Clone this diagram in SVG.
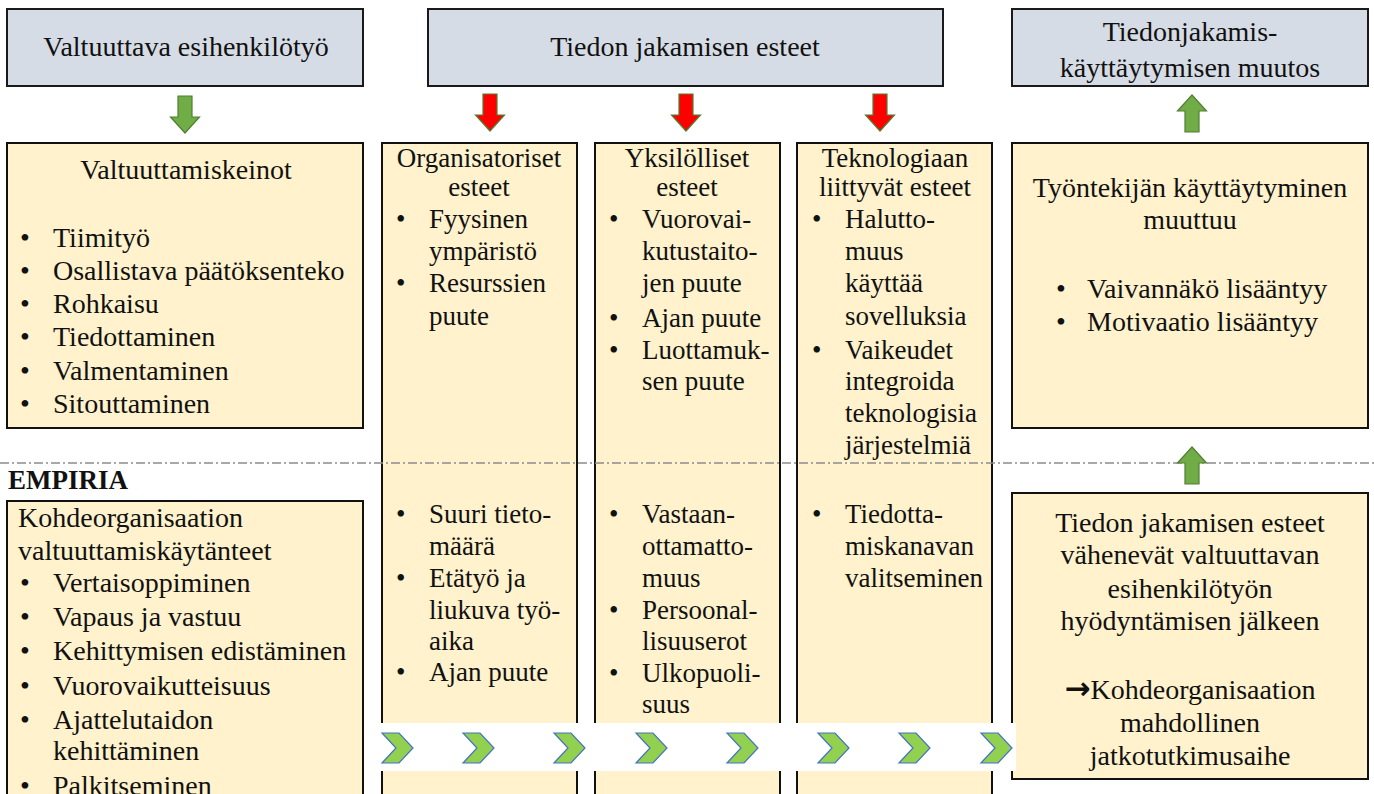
<svg xmlns="http://www.w3.org/2000/svg" width="1374" height="794" viewBox="0 0 1374 794">
  <defs>
    <style>
      text { font-family: "Liberation Serif", "Times New Roman", serif; font-size: 28px; fill: #111; }
      .col text { font-size: 27px; }
      .c { text-anchor: middle; }
      .head { fill: #d6dce5; stroke: #1a1a1a; stroke-width: 2; }
      .box { fill: #fff2cc; stroke: #111; stroke-width: 2; }
      .garrow { fill: #70ad47; stroke: #507e32; stroke-width: 1.2; }
      .rarrow { fill: #ff0000; stroke: #507e32; stroke-width: 1.2; }
      .chev { fill: #92d050; stroke: #4472c4; stroke-width: 1.2; }
      .divider { stroke: #8c8c8c; stroke-width: 1.3; stroke-dasharray: 9 3 2 3; fill: none; }
      .label { font-weight: bold; font-size: 27px; }
      .sym { font-family: "DejaVu Sans", sans-serif; font-weight: bold; font-size: 31px; }
    </style>
    <!-- block arrow, pointing down, centred on x=0, 37 tall -->
    <path id="arrowDown" d="M -7 0 H 7 V 21 H 14.5 L 0 37 L -14.5 21 H -7 Z"/>
    <path id="arrowUp" d="M -7 37 H 7 V 16 H 14.5 L 0 0 L -14.5 16 H -7 Z"/>
    <polygon id="chevron" points="0,0 17,0 31,15 17,30 0,30 14,15"/>
  </defs>

  <rect width="1374" height="794" fill="#ffffff"/>

  <!-- header boxes -->
  <g id="head-valtuuttava">
    <rect class="head" x="7" y="9" width="356" height="77"/>
    <text class="c" x="186" y="56">Valtuuttava esihenkilötyö</text>
  </g>
  <g id="head-esteet">
    <rect class="head" x="428" y="9" width="515" height="77"/>
    <text class="c" x="685" y="56">Tiedon jakamisen esteet</text>
  </g>
  <g id="head-muutos">
    <rect class="head" x="1012" y="9" width="356" height="77"/>
    <text class="c" x="1190" y="41">Tiedonjakamis-</text>
    <text class="c" x="1190" y="77">käyttäytymisen muutos</text>
  </g>

  <!-- left: means of empowerment -->
  <g id="box-keinot">
    <rect class="box" x="7" y="143" width="356" height="285"/>
    <text class="c" x="186" y="179">Valtuuttamiskeinot</text>
    <text x="20" y="247">•</text><text x="53" y="247">Tiimityö</text>
    <text x="20" y="280">•</text><text x="53" y="280">Osallistava päätöksenteko</text>
    <text x="20" y="313">•</text><text x="53" y="313">Rohkaisu</text>
    <text x="20" y="346">•</text><text x="53" y="346">Tiedottaminen</text>
    <text x="20" y="380">•</text><text x="53" y="380">Valmentaminen</text>
    <text x="20" y="413">•</text><text x="53" y="413">Sitouttaminen</text>
  </g>

  <!-- barrier columns -->
  <g id="col-organisatoriset" class="col">
    <rect class="box" x="382" y="143" width="195" height="670"/>
    <text class="c" x="479" y="167">Organisatoriset</text>
    <text class="c" x="479" y="196">esteet</text>
    <text x="396" y="228">•</text><text x="429" y="228">Fyysinen</text>
    <text x="429" y="260">ympäristö</text>
    <text x="396" y="292">•</text><text x="429" y="292">Resurssien</text>
    <text x="429" y="325">puute</text>
    <text x="396" y="523">•</text><text x="429" y="523">Suuri tieto-</text>
    <text x="429" y="555">määrä</text>
    <text x="396" y="587">•</text><text x="429" y="587">Etätyö ja</text>
    <text x="429" y="619">liukuva työ-</text>
    <text x="429" y="650">aika</text>
    <text x="396" y="681">•</text><text x="429" y="681">Ajan puute</text>
  </g>
  <g id="col-yksilolliset" class="col">
    <rect class="box" x="595" y="143" width="185" height="670"/>
    <text class="c" x="687" y="167">Yksilölliset</text>
    <text class="c" x="687" y="196">esteet</text>
    <text x="609" y="228">•</text><text x="642" y="228">Vuorovai-</text>
    <text x="642" y="260">kutustaito-</text>
    <text x="642" y="292">jen puute</text>
    <text x="609" y="327">•</text><text x="642" y="327">Ajan puute</text>
    <text x="609" y="359">•</text><text x="642" y="359">Luottamuk-</text>
    <text x="642" y="390">sen puute</text>
    <text x="609" y="523">•</text><text x="642" y="523">Vastaan-</text>
    <text x="642" y="555">ottamatto-</text>
    <text x="642" y="587">muus</text>
    <text x="609" y="619">•</text><text x="642" y="619">Persoonal-</text>
    <text x="642" y="650">lisuuserot</text>
    <text x="609" y="682">•</text><text x="642" y="682">Ulkopuoli-</text>
    <text x="642" y="713">suus</text>
  </g>
  <g id="col-teknologia" class="col">
    <rect class="box" x="797" y="143" width="195" height="670"/>
    <text class="c" x="895" y="167">Teknologiaan</text>
    <text class="c" x="895" y="196">liittyvät esteet</text>
    <text x="812" y="228">•</text><text x="845" y="228">Halutto-</text>
    <text x="845" y="260">muus</text>
    <text x="845" y="292">käyttää</text>
    <text x="845" y="325">sovelluksia</text>
    <text x="812" y="359">•</text><text x="845" y="359">Vaikeudet</text>
    <text x="845" y="390">integroida</text>
    <text x="845" y="422">teknologisia</text>
    <text x="845" y="454">järjestelmiä</text>
    <text x="812" y="523">•</text><text x="845" y="523">Tiedotta-</text>
    <text x="845" y="555">miskanavan</text>
    <text x="845" y="587">valitseminen</text>
  </g>

  <!-- right: behaviour change -->
  <g id="box-kayttaytyminen">
    <rect class="box" x="1012" y="143" width="356" height="285"/>
    <text class="c" x="1190" y="197">Työntekijän käyttäytyminen</text>
    <text class="c" x="1190" y="229">muuttuu</text>
    <text x="1056" y="298">•</text><text x="1087" y="298">Vaivannäkö lisääntyy</text>
    <text x="1056" y="331">•</text><text x="1087" y="331">Motivaatio lisääntyy</text>
  </g>

  <!-- theory / empirical divider -->
  <line class="divider" x1="0" y1="463" x2="1374" y2="463"/>

  <!-- empirical part -->
  <text class="label" x="8" y="489">EMPIRIA</text>
  <g id="box-kaytanteet">
    <rect class="box" x="7" y="501" width="356" height="310"/>
    <text x="18" y="527">Kohdeorganisaation</text>
    <text x="18" y="560">valtuuttamiskäytänteet</text>
    <text x="20" y="592">•</text><text x="53" y="592">Vertaisoppiminen</text>
    <text x="20" y="626">•</text><text x="53" y="626">Vapaus ja vastuu</text>
    <text x="20" y="660">•</text><text x="53" y="660">Kehittymisen edistäminen</text>
    <text x="20" y="695">•</text><text x="53" y="695">Vuorovaikutteisuus</text>
    <text x="20" y="729">•</text><text x="53" y="729">Ajattelutaidon</text>
    <text x="53" y="760">kehittäminen</text>
    <text x="20" y="795">•</text><text x="53" y="795">Palkitseminen</text>
  </g>
  <g id="box-tulos">
    <rect class="box" x="1012" y="493" width="356" height="286"/>
    <text class="c" x="1190" y="532">Tiedon jakamisen esteet</text>
    <text class="c" x="1190" y="564">vähenevät valtuuttavan</text>
    <text class="c" x="1190" y="598">esihenkilötyön</text>
    <text class="c" x="1190" y="630">hyödyntämisen jälkeen</text>
    <text class="c" x="1190" y="699"><tspan class="sym">→</tspan>Kohdeorganisaation</text>
    <text class="c" x="1190" y="732">mahdollinen</text>
    <text class="c" x="1190" y="765">jatkotutkimusaihe</text>
  </g>

  <!-- connectors: block arrows and chevron band -->
  <g id="connectors">
    <use href="#arrowDown" class="garrow" x="185" y="96"/>
    <use href="#arrowDown" class="rarrow" x="490" y="94"/>
    <use href="#arrowDown" class="rarrow" x="686" y="94"/>
    <use href="#arrowDown" class="rarrow" x="880" y="94"/>
    <use href="#arrowUp" class="garrow" x="1192" y="95"/>
    <use href="#arrowUp" class="garrow" x="1192" y="447"/>
    <rect x="378" y="723" width="638" height="48" fill="#ffffff"/>
    <use href="#chevron" class="chev" x="382" y="733"/>
    <use href="#chevron" class="chev" x="463" y="733"/>
    <use href="#chevron" class="chev" x="554" y="733"/>
    <use href="#chevron" class="chev" x="636" y="733"/>
    <use href="#chevron" class="chev" x="727" y="733"/>
    <use href="#chevron" class="chev" x="818" y="733"/>
    <use href="#chevron" class="chev" x="899" y="733"/>
    <use href="#chevron" class="chev" x="981" y="733"/>
  </g>
</svg>
